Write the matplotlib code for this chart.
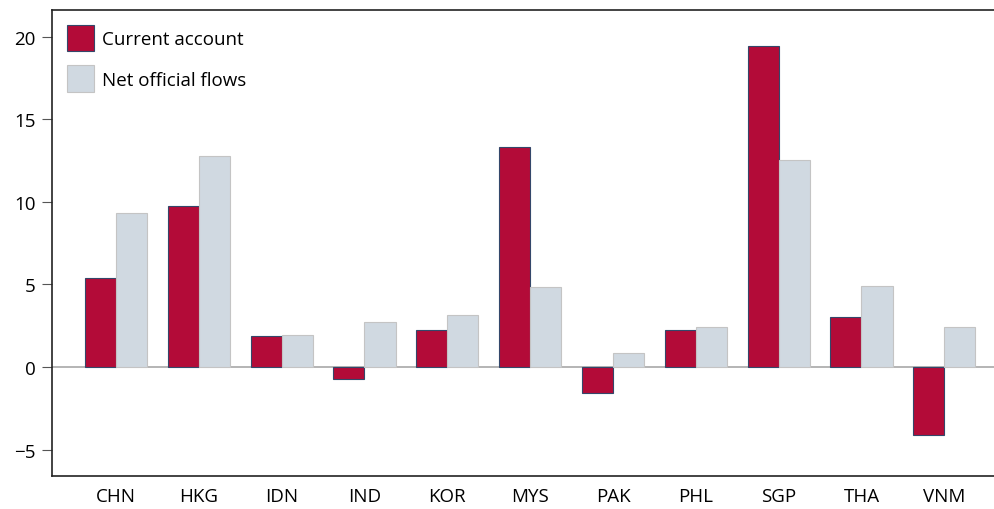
import matplotlib.pyplot as plt
import numpy as np

countries = ['CHN', 'HKG', 'IDN', 'IND', 'KOR', 'MYS', 'PAK', 'PHL', 'SGP', 'THA', 'VNM']
current_account = [5.4, 9.75, 1.9, -0.75, 2.25, 13.3, -1.55, 2.25, 19.45, 3.0, -4.1]
net_official = [9.35, 12.8, 1.95, 2.75, 3.15, 4.85, 0.85, 2.45, 12.55, 4.9, 2.4]

plt.rcParams['font.family'] = ['Open Sans', 'DejaVu Sans']

fig = plt.figure(figsize=(9.94, 5.10), dpi=100)
ax = fig.add_axes([0.0523, 0.0647, 0.9477, 0.9133])

x = np.arange(len(countries))
w = 0.375
ax.axhline(0, color='#a8a8a8', lw=1.2, zorder=1)
ax.bar(x - w / 2, current_account, w, color='#b30b38', edgecolor='#34476a',
       linewidth=0.8, label='Current account', zorder=2)
ax.bar(x + w / 2, net_official, w, color='#d0d9e1', edgecolor='#c4c4c4',
       linewidth=0.8, label='Net official flows', zorder=2)

ax.set_xlim(-0.773, 10.60)
ax.set_ylim(-6.6, 21.6)
ax.set_yticks([-5, 0, 5, 10, 15, 20])
ax.set_yticklabels(['\u22125', '0', '5', '10', '15', '20'])
ax.set_xticks(x)
ax.set_xticklabels(countries)
ax.tick_params(axis='x', length=0, pad=8, labelsize=13.5)
ax.tick_params(axis='y', length=7, width=0.8, color='#555555', pad=5, labelsize=13.5)
ax.spines['right'].set_visible(False)
for s in ['left', 'top', 'bottom']:
    ax.spines[s].set_linewidth(1.2)
    ax.spines[s].set_color('#222222')

ax.legend(loc='upper left', bbox_to_anchor=(0.0, 1.0), frameon=False,
          fontsize=13.5, handlelength=1.44, handleheight=1.8,
          labelspacing=0.75, handletextpad=0.45, borderaxespad=0.4,
          borderpad=0.38)

fig.savefig('out.png', dpi=100)
